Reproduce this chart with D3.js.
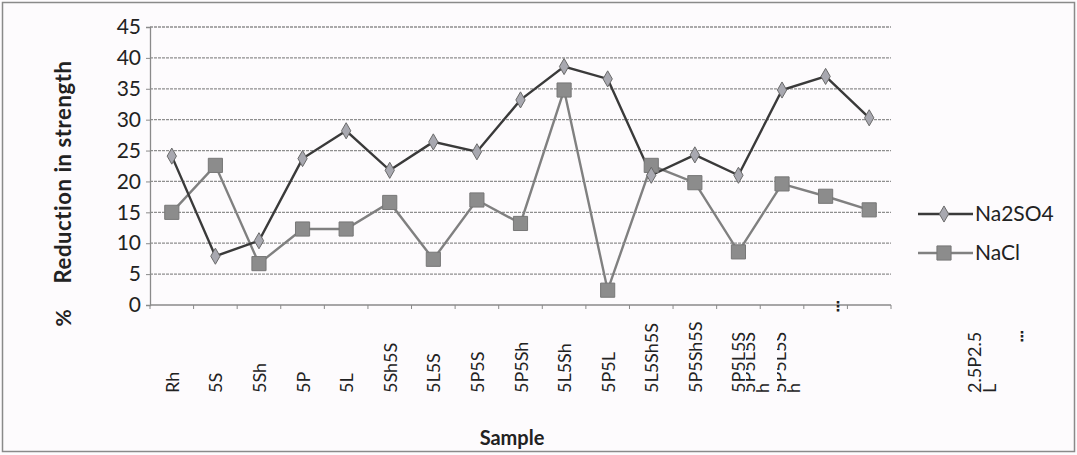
<!DOCTYPE html>
<html>
<head>
<meta charset="utf-8">
<script src="https://cdn.jsdelivr.net/npm/d3@7"></script>
<style>
  html, body { margin: 0; padding: 0; background: #fff; }
  svg { display: block; }
  text { font-family: Lato, "Open Sans", "DejaVu Sans", sans-serif; fill: #222; }
</style>
</head>
<body>
<svg id="chart" width="1077" height="455"></svg>
<script>
// Samples along the x axis
const categories = ["Rh", "5S", "5Sh", "5P", "5L", "5Sh5S", "5L5S", "5P5S", "5P5Sh", "5L5Sh",
  "5P5L", "5L5Sh5S", "5P5Sh5S", "5P5L5S", "5P5L5Sh", "5P5L5Sh ", "2.5P2.5L"];

// % reduction in strength for each exposure
const na2so4 = [24.1, 7.9, 10.4, 23.7, 28.2, 21.8, 26.4, 24.8, 33.2, 38.6, 36.6, 21.0, 24.3, 21.0, 34.8, 37.0, 30.3];
const nacl   = [15.0, 22.6, 6.7, 12.3, 12.3, 16.6, 7.4, 17.0, 13.2, 34.8, 2.4, 22.6, 19.8, 8.6, 19.6, 17.6, 15.4];

const yTicks = [0, 5, 10, 15, 20, 25, 30, 35, 40, 45];

const svg = d3.select("#chart");
const W = 1077, H = 455;

// Outer chart frame
svg.append("rect").attr("x", 0).attr("y", 0).attr("width", W).attr("height", H).attr("fill", "#fdfbfd");
svg.append("rect").attr("x", 2.5).attr("y", 2.5).attr("width", W - 5).attr("height", H - 6)
  .attr("fill", "none").attr("stroke", "#8a8a8a").attr("stroke-width", 1.5);

const plot = { left: 150, right: 891, top: 27, bottom: 305 };

const x = d3.scaleBand().domain(categories).range([plot.left, plot.right]).paddingInner(0).paddingOuter(0);
const y = d3.scaleLinear().domain([0, 45]).range([plot.bottom, plot.top]);
const cx = d => x(d) + x.bandwidth() / 2;

// Horizontal gridlines
svg.append("g").selectAll("line").data(yTicks.filter(t => t > 0)).join("line")
  .attr("x1", plot.left).attr("x2", plot.right)
  .attr("y1", d => y(d)).attr("y2", d => y(d))
  .attr("stroke", "#8e8e8e").attr("stroke-width", 1.3).attr("stroke-dasharray", "3,1");

// Y axis
const yAxis = d3.axisLeft(y).tickValues(yTicks).tickSize(4).tickPadding(5);
const gy = svg.append("g").attr("transform", `translate(${plot.left},0)`).call(yAxis);
gy.select(".domain").attr("stroke", "#8a8a8a").attr("stroke-width", 1.3);
gy.selectAll(".tick line").attr("stroke", "#8a8a8a");
gy.selectAll(".tick text").attr("font-size", 21).attr("fill", "#222")
  .attr("font-family", "Lato, 'Open Sans', sans-serif");

// X axis line with ticks at category boundaries
const gx = svg.append("g");
gx.append("line").attr("x1", plot.left).attr("x2", plot.right)
  .attr("y1", plot.bottom).attr("y2", plot.bottom)
  .attr("stroke", "#8a8a8a").attr("stroke-width", 1.3);
const bounds = categories.map(c => x(c)).concat([plot.right]);
gx.selectAll("line.tk").data(bounds).join("line").attr("class", "tk")
  .attr("x1", d => d).attr("x2", d => d)
  .attr("y1", plot.bottom).attr("y2", plot.bottom + 4)
  .attr("stroke", "#8a8a8a");

// Category labels, rotated
const labelBottom = 393;
const labelSize = 18;
const lab = svg.append("g");
const simple = categories.slice(0, 14);
lab.selectAll("text.cat").data(simple).join("text").attr("class", "cat")
  .attr("transform", d => `translate(${cx(d) + 7},${labelBottom}) rotate(-90)`)
  .attr("font-size", labelSize).attr("fill", "#333")
  .text(d => d);

// Wrapped labels that overflow their band; the first line is cut off
const defs = svg.append("defs");
defs.append("clipPath").attr("id", "halfclip")
  .append("rect").attr("x", -5).attr("y", -3).attr("width", 90).attr("height", 20);
[749, 780].forEach(px => {
  const g = lab.append("g").attr("transform", `translate(${px},${labelBottom}) rotate(-90)`);
  g.append("text").attr("font-size", labelSize).attr("fill", "#333").attr("clip-path", "url(#halfclip)")
    .attr("x", 0).attr("y", 6).text("5P5L5S");
  g.append("text").attr("font-size", labelSize).attr("fill", "#333").attr("x", 0).attr("y", 20).text("h");
});
{
  const g = lab.append("g").attr("transform", `translate(975,${labelBottom}) rotate(-90)`);
  g.append("text").attr("font-size", labelSize).attr("fill", "#333").attr("x", 0).attr("y", 6).text("2.5P2.5");
  g.append("text").attr("font-size", labelSize).attr("fill", "#333").attr("x", 0).attr("y", 21).text("L");
}
// Overflow markers
svg.append("text").attr("x", 838).attr("y", 311).attr("font-size", 14).attr("text-anchor", "middle").attr("font-weight", "bold").text("⋮");
svg.append("text").attr("x", 1022).attr("y", 341).attr("font-size", 14).attr("text-anchor", "middle").attr("font-weight", "bold").text("⋮");

// Axis titles
svg.append("text").attr("transform", "translate(71,172) rotate(-90)")
  .attr("text-anchor", "middle").attr("font-size", 22).attr("font-weight", "bold").attr("fill", "#333")
  .attr("letter-spacing", 0.6)
  .text("Reduction in strength");
svg.append("text").attr("transform", "translate(71,318) rotate(-90)")
  .attr("text-anchor", "middle").attr("font-size", 21).attr("font-weight", "bold").attr("fill", "#333")
  .text("%");
svg.append("text").attr("x", 512).attr("y", 445).attr("text-anchor", "middle")
  .attr("font-size", 20).attr("font-weight", "bold").attr("fill", "#333").text("Sample");

// Series
const series = [
  { name: "Na2SO4", values: na2so4, line: "#3a3a3a", marker: "diamond", fill: "#a8a8b0", stroke: "#6a6a6a", size: 75 },
  { name: "NaCl", values: nacl, line: "#808080", marker: "square", fill: "#8c8c8c", stroke: "#777", size: 200 }
];
const sym = { diamond: d3.symbolDiamond, square: d3.symbolSquare };

const line = d3.line().x((d, i) => cx(categories[i])).y(d => y(d));

// Draw NaCl first so Na2SO4 sits above
series.slice().reverse().forEach(s => {
  svg.append("path").datum(s.values).attr("d", line)
    .attr("fill", "none").attr("stroke", s.line).attr("stroke-width", 2.4);
});
series.slice().reverse().forEach(s => {
  svg.append("g").selectAll("path").data(s.values).join("path")
    .attr("transform", (d, i) => `translate(${cx(categories[i])},${y(d)})`)
    .attr("d", d3.symbol().type(sym[s.marker]).size(s.size))
    .attr("fill", s.fill).attr("stroke", s.stroke).attr("stroke-width", 1);
});

// Legend
const leg = svg.append("g");
series.forEach((s, i) => {
  const ly = 214 + i * 39;
  leg.append("line").attr("x1", 918).attr("x2", 973).attr("y1", ly).attr("y2", ly)
    .attr("stroke", s.line).attr("stroke-width", 2.4);
  leg.append("path").attr("transform", `translate(944,${ly})`)
    .attr("d", d3.symbol().type(sym[s.marker]).size(s.size))
    .attr("fill", s.fill).attr("stroke", s.stroke);
  leg.append("text").attr("x", 975).attr("y", ly + 7).attr("font-size", 21).attr("fill", "#333").text(s.name);
});
</script>
</body>
</html>
